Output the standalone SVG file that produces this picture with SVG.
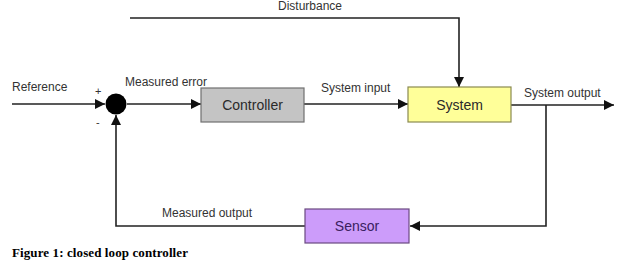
<svg xmlns="http://www.w3.org/2000/svg" width="619" height="268" viewBox="0 0 619 268">
<style>
.lbl{font-family:"Liberation Sans",Arial,sans-serif;font-size:12px;fill:#333}
.box{font-family:"Liberation Sans",Arial,sans-serif;font-size:14px;text-anchor:middle}
.ln{fill:none;stroke:#222;stroke-width:1.6}
</style>
<defs>
<marker id="ah" viewBox="0 0 10 10" refX="10" refY="5" markerWidth="10" markerHeight="10" markerUnits="userSpaceOnUse" orient="auto">
<path d="M0,0 L10,5 L0,10 z" fill="#111"/>
</marker>
</defs>
<rect width="619" height="268" fill="#fff"/>
<g id="connectors">
<path class="ln" d="M12,104 H105" marker-end="url(#ah)"/>
<path class="ln" d="M127,104 H201" marker-end="url(#ah)"/>
<path class="ln" d="M304,104 H408" marker-end="url(#ah)"/>
<path class="ln" d="M511,105 H614" marker-end="url(#ah)"/>
<path class="ln" d="M130,18 H459 V87" marker-end="url(#ah)"/>
<path class="ln" d="M546,105 V226 H410" marker-end="url(#ah)"/>
<path class="ln" d="M305,226 H116 V115" marker-end="url(#ah)"/>
</g>
<g id="sum">
<circle cx="116" cy="104" r="10.5" fill="#000"/>
<text class="lbl" x="95" y="95" style="font-size:11px">+</text>
<text class="lbl" x="96" y="126" style="font-size:11px">-</text>
</g>
<g id="controller">
<rect x="201" y="88" width="103" height="34" fill="#c4c4c4" stroke="#707070" stroke-width="1.2"/>
<text class="box" x="252.5" y="110" fill="#2a2a2a">Controller</text>
</g>
<g id="system">
<rect x="408" y="87" width="103" height="35" fill="#ffff99" stroke="#8a8a50" stroke-width="1.2"/>
<text class="box" x="459.5" y="110" fill="#2a2a2a">System</text>
</g>
<g id="sensor">
<rect x="305" y="209" width="104" height="34" fill="#cc9cfa" stroke="#6a4a80" stroke-width="1.2"/>
<text class="box" x="357" y="231" fill="#3a2060">Sensor</text>
</g>
<g id="labels">
<text class="lbl" x="278" y="10">Disturbance</text>
<text class="lbl" x="12" y="91">Reference</text>
<text class="lbl" x="125" y="86">Measured error</text>
<text class="lbl" x="321" y="92">System input</text>
<text class="lbl" x="524" y="97">System output</text>
<text class="lbl" x="162" y="217">Measured output</text>
</g>
<text x="12" y="257" font-family="'Liberation Serif','Times New Roman',serif" font-weight="bold" font-size="13" textLength="176" lengthAdjust="spacing" fill="#000">Figure 1: closed loop controller</text>
</svg>
